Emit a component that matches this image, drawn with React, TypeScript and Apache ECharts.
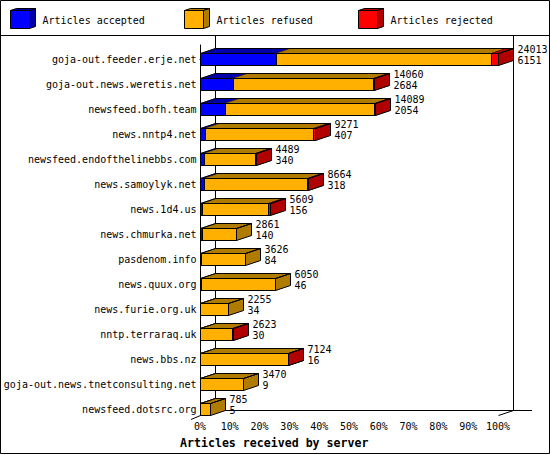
import React, { useEffect, useRef } from 'react';
import * as echarts from 'echarts';

const SERVERS = [
  'goja-out.feeder.erje.net',
  'goja-out.news.weretis.net',
  'newsfeed.bofh.team',
  'news.nntp4.net',
  'newsfeed.endofthelinebbs.com',
  'news.samoylyk.net',
  'news.1d4.us',
  'news.chmurka.net',
  'pasdenom.info',
  'news.quux.org',
  'news.furie.org.uk',
  'nntp.terraraq.uk',
  'news.bbs.nz',
  'goja-out.news.tnetconsulting.net',
  'newsfeed.dotsrc.org',
];
const ACCEPTED = [6151, 2684, 2054, 407, 340, 318, 156, 140, 84, 46, 34, 30, 16, 9, 5];
const REFUSED = [17302, 11276, 11995, 8704, 4129, 8326, 5323, 2721, 3542, 6004, 2221, 2583, 7098, 3461, 780];
const REJECTED = [560, 100, 40, 160, 20, 20, 130, 0, 0, 0, 0, 10, 10, 0, 0];
const X_TICKS = [0, 10, 20, 30, 40, 50, 60, 70, 80, 90, 100];

const LEGEND = ['Articles accepted', 'Articles refused', 'Articles rejected'];
const FRONT = ['#0000ff', '#ffb000', '#ff0000'];
const SHADE = ['#0000a8', '#b07c00', '#b00000'];

const FONT = '"DejaVu Sans Mono", monospace';
const DX = 15;
const DY = 5;
const BAR_H = 12;

// grid edges in pixels
const G_LEFT = 200;
const G_RIGHT = 498;
const G_TOP = 45;
const G_BOTTOM = 415;

const TOTALS = SERVERS.map((_, i) => ACCEPTED[i] + REFUSED[i] + REJECTED[i]);
const MAX_TOTAL = Math.max(...TOTALS);

const crisp = (v: number) => Math.round(v) + 0.5;

const renderBar = (_params: any, api: any) => {
  const i = api.value(1);
  const segs = [ACCEPTED[i], REFUSED[i], REJECTED[i]];
  const px = (count: number) => crisp(api.coord([(count / MAX_TOTAL) * 100, i])[0]);
  const cy = api.coord([0, i])[1];
  const top = crisp(cy - BAR_H / 2);
  const bot = top + BAR_H;
  const xs = px(0);
  const xe = px(TOTALS[i]);
  const children: any[] = [];
  let acc = 0;

  segs.forEach((v, k) => {
    if (v <= 0) return;
    const x0 = px(acc);
    acc += v;
    const x1 = px(acc);
    children.push({
      type: 'polygon',
      shape: { points: [[x0, top], [x1, top], [x1 + DX, top - DY], [x0 + DX, top - DY]] },
      style: { fill: SHADE[k], stroke: SHADE[k], lineWidth: 0.5 },
    });
    children.push({
      type: 'polygon',
      shape: { points: [[x1, top], [x1 + DX, top - DY], [x1 + DX, bot - DY], [x1, bot]] },
      style: { fill: SHADE[k], stroke: '#000', lineWidth: 1 },
    });
    children.push({
      type: 'rect',
      shape: { x: x0, y: top, width: x1 - x0, height: BAR_H },
      style: { fill: FRONT[k], stroke: '#000', lineWidth: 1 },
    });
  });

  // outline of the whole top face
  children.push({
    type: 'polygon',
    shape: { points: [[xs, top], [xe, top], [xe + DX, top - DY], [xs + DX, top - DY]] },
    style: { fill: 'none', stroke: '#000', lineWidth: 1 },
  });

  children.push({
    type: 'text',
    x: xs - 4,
    y: cy,
    style: {
      text: SERVERS[i],
      fill: '#000',
      fontFamily: FONT,
      fontSize: 10,
      align: 'right',
      verticalAlign: 'middle',
    },
  });
  children.push({
    type: 'text',
    x: xe + DX + 4,
    y: cy - 4,
    style: {
      text: `${TOTALS[i]}\n${ACCEPTED[i]}`,
      fill: '#000',
      fontFamily: FONT,
      fontSize: 10,
      lineHeight: 11,
      align: 'left',
      verticalAlign: 'middle',
    },
  });

  return { type: 'group', children };
};

const line = (x1: number, y1: number, x2: number, y2: number) => ({
  type: 'line',
  z: 0,
  shape: { x1, y1, x2, y2 },
  style: { stroke: '#000', lineWidth: 1 },
});

const legendItem = (k: number, x: number) => ({
  type: 'group',
  children: [
    {
      type: 'polygon',
      shape: { points: [[x, 10.5], [x + 19, 10.5], [x + 25, 8.5], [x + 6, 8.5]] },
      style: { fill: SHADE[k], stroke: '#000', lineWidth: 1 },
    },
    {
      type: 'polygon',
      shape: { points: [[x + 19, 10.5], [x + 25, 8.5], [x + 25, 26.5], [x + 19, 28.5]] },
      style: { fill: SHADE[k], stroke: '#000', lineWidth: 1 },
    },
    {
      type: 'rect',
      shape: { x, y: 10.5, width: 19, height: 18 },
      style: { fill: FRONT[k], stroke: '#000', lineWidth: 1 },
    },
    {
      type: 'text',
      x: x + 32,
      y: 20,
      style: { text: LEGEND[k], fill: '#000', fontFamily: FONT, fontSize: 10, verticalAlign: 'middle' },
    },
  ],
});

export default function App() {
  const chartRef = useRef<HTMLDivElement>(null);

  useEffect(() => {
    document.body.style.margin = '0';
    if (!chartRef.current) return;
    const chart = echarts.init(chartRef.current, undefined, { renderer: 'svg' });

    const rowPitch = 25;
    const firstRow = 59;

    chart.setOption({
      animation: false,
      backgroundColor: '#fff',
      grid: { left: G_LEFT, right: 550 - G_RIGHT, top: G_TOP, bottom: 455 - G_BOTTOM },
      xAxis: {
        type: 'value',
        min: X_TICKS[0],
        max: X_TICKS[X_TICKS.length - 1],
        interval: X_TICKS[1] - X_TICKS[0],
        axisLine: { show: true, lineStyle: { color: '#000', width: 1 } },
        axisTick: { show: true, length: 4, lineStyle: { color: '#000' } },
        axisLabel: { formatter: '{value}%', color: '#000', fontFamily: FONT, fontSize: 10, margin: 6 },
        splitLine: { show: false },
      },
      yAxis: {
        type: 'value',
        inverse: true,
        min: (G_TOP - firstRow) / rowPitch,
        max: (G_BOTTOM - firstRow) / rowPitch,
        axisLine: { show: true, lineStyle: { color: '#000', width: 1 } },
        axisTick: { show: false },
        axisLabel: { show: false },
        splitLine: { show: false },
      },
      series: [
        {
          type: 'custom',
          clip: false,
          renderItem: renderBar,
          data: SERVERS.map((_, i) => [0, i]),
        },
      ],
      graphic: [
        { type: 'rect', z: 0, shape: { x: 0.5, y: 0.5, width: 549, height: 453 }, style: { fill: 'none', stroke: '#000', lineWidth: 1 } },
        line(0, 35.5, 550, 35.5),
        line(G_LEFT + DX + 0.5, 36, G_LEFT + DX + 0.5, G_BOTTOM - DY + 0.5),
        line(G_RIGHT + DX + 0.5, 36, G_RIGHT + DX + 0.5, G_BOTTOM - DY + 0.5),
        line(G_LEFT + DX, G_BOTTOM - DY + 0.5, G_RIGHT + DX + 19, G_BOTTOM - DY + 0.5),
        line(G_RIGHT + 0.5, G_BOTTOM + 0.5, G_RIGHT + DX + 0.5, G_BOTTOM - DY + 0.5),
        line(G_LEFT + 0.5, G_BOTTOM + 0.5, G_LEFT + DX + 0.5, G_BOTTOM - DY + 0.5),
        line(G_LEFT - 9, G_BOTTOM + 4.5, G_LEFT + 0.5, G_BOTTOM + 0.5),
        legendItem(0, 10.5),
        legendItem(1, 184.5),
        legendItem(2, 358.5),
        {
          type: 'text',
          x: 180,
          y: 443,
          style: {
            text: 'Articles received by server',
            fill: '#000',
            fontFamily: FONT,
            fontSize: 11.6,
            fontWeight: 'bold',
            verticalAlign: 'middle',
          },
        },
      ],
    });

    return () => chart.dispose();
  }, []);

  return <div ref={chartRef} style={{ width: 550, height: 455 }} />;
}
